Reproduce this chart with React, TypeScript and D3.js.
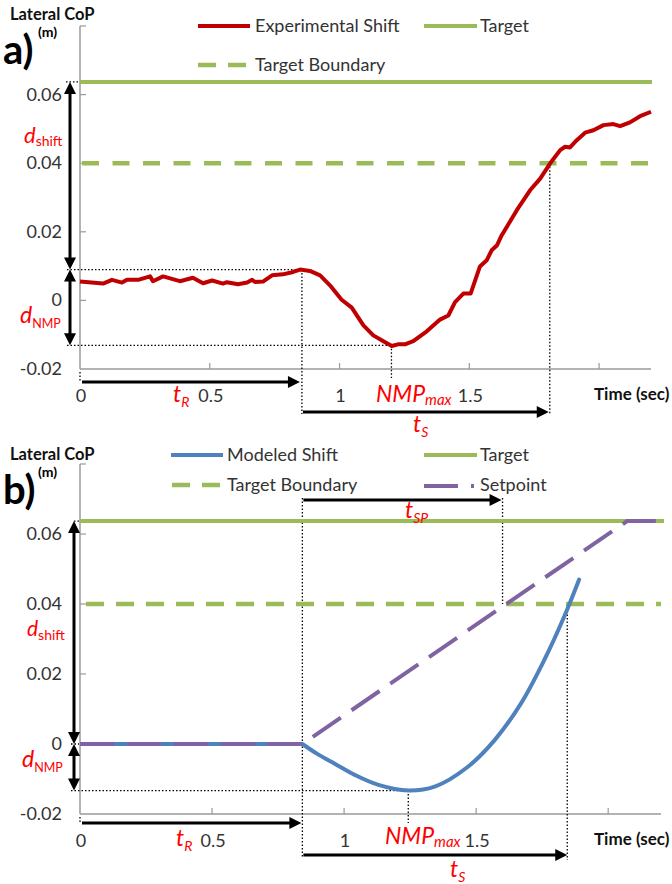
import React from 'react';
import * as d3 from 'd3';

// ---------- data ----------
const xTickMarks = [0.5, 1, 1.5, 2];
const xTickLabelValues = [0, 0.5, 1, 1.5];
const yTickMarks = [0, 0.02, 0.04, 0.06, 0.08];
const yTickLabelValues = [-0.02, 0, 0.02, 0.04, 0.06];

const targetValue = 0.0637;
const boundaryValue = 0.04;

const expT = [0, 0.089, 0.123, 0.162, 0.181, 0.224, 0.27, 0.281, 0.32, 0.385, 0.435, 0.474, 0.509, 0.551, 0.566, 0.609, 0.644, 0.663, 0.674, 0.705, 0.74, 0.782, 0.821, 0.848, 0.886, 0.925, 0.963, 1.008, 1.047, 1.092, 1.13, 1.169, 1.201, 1.225, 1.252, 1.284, 1.336, 1.387, 1.419, 1.445, 1.477, 1.505, 1.541, 1.567, 1.586, 1.606, 1.625, 1.683, 1.734, 1.773, 1.811, 1.85, 1.869, 1.888, 1.914, 1.946, 1.978, 2.017, 2.055, 2.081, 2.119, 2.158, 2.2];
const expV = [0.0055, 0.0049, 0.006, 0.0052, 0.006, 0.006, 0.007, 0.0056, 0.007, 0.0056, 0.0066, 0.005, 0.0058, 0.0049, 0.0053, 0.0047, 0.0052, 0.006, 0.0054, 0.0055, 0.0073, 0.0076, 0.0083, 0.009, 0.0086, 0.0073, 0.0044, 0.0002, -0.0021, -0.0073, -0.0102, -0.0119, -0.0133, -0.0128, -0.0128, -0.0119, -0.009, -0.0056, -0.0044, -0.0005, 0.002, 0.002, 0.0099, 0.0117, 0.0146, 0.016, 0.019, 0.0263, 0.0321, 0.0355, 0.0399, 0.0438, 0.0448, 0.0446, 0.0467, 0.0489, 0.0496, 0.0511, 0.0514, 0.0508, 0.0519, 0.0537, 0.055];

// modeled shift: flat part, then the smooth dip-and-rise
const modFlatT = [0, 0.842];
const modFlatV = [0, 0];
const modT = [0.842, 0.9, 0.966, 1.042, 1.13, 1.243, 1.343, 1.469, 1.57, 1.67, 1.758, 1.834, 1.89];
const modV = [0, -0.0029, -0.0057, -0.0089, -0.0117, -0.0133, -0.0122, -0.0065, 0.0011, 0.0116, 0.024, 0.0365, 0.047];

const spT = [0, 0.842, 2.072, 2.2];
const spV = [0, 0, targetValue, targetValue];

// annotation values
const aTR = 0.855, aPeak = 0.009, aTMin = 1.2, aMin = -0.0131, aTS = 1.81;
const bTR = 0.842, bZero = 0, bTMin = 1.243, bMin = -0.0133, bTS = 1.845, bTSP = 1.6;

// ---------- styles ----------
const RED = '#c00000';
const GREEN = '#9bbb59';
const BLUE = '#4f81bd';
const PURPLE = '#8064a2';
const LBL = '#ff0000';
const FONT = 'Lato, "Open Sans", sans-serif';
const AXIS = '#9a9a9a';

type ArrowProps = { x1: number; y1: number; x2: number; y2: number; both?: boolean };
function Arrow({ x1, y1, x2, y2, both = false }: ArrowProps) {
  const L = 12, W = 6;
  const a = Math.atan2(y2 - y1, x2 - x1);
  const c = Math.cos(a), s = Math.sin(a);
  const head = (x: number, y: number, cc: number, ss: number) =>
    `M${x},${y}L${x - L * cc + W * ss},${y - L * ss - W * cc}L${x - L * cc - W * ss},${y - L * ss + W * cc}Z`;
  const sx = both ? x1 + (L - 2) * c : x1;
  const sy = both ? y1 + (L - 2) * s : y1;
  const ex = x2 - (L - 2) * c, ey = y2 - (L - 2) * s;
  return (
    <g>
      <line x1={sx} y1={sy} x2={ex} y2={ey} stroke="#000" strokeWidth={3} />
      <path d={head(x2, y2, c, s)} fill="#000" />
      {both && <path d={head(x1, y1, -c, -s)} fill="#000" />}
    </g>
  );
}

function Dot({ x1, y1, x2, y2 }: { x1: number; y1: number; x2: number; y2: number }) {
  return <line x1={x1} y1={y1} x2={x2} y2={y2} stroke="#000" strokeWidth={1.3} strokeDasharray="1.5 2" />;
}

type AxesProps = { x: d3.ScaleLinear<number, number>; y: d3.ScaleLinear<number, number>; label: string; top: number };
function Axes({ x, y, label, top }: AxesProps) {
  const [x0, x1] = x.range();
  const [yb, yt] = y.range();
  return (
    <g fontFamily={FONT}>
      <line x1={x0} y1={yb} x2={x0} y2={yt} stroke={AXIS} strokeWidth={1.5} />
      <line x1={x0} y1={yb} x2={x1} y2={yb} stroke={AXIS} strokeWidth={1.5} />
      {yTickMarks.map((v) => (
        <line key={'yt' + v} x1={x0} x2={x0 + 6} y1={y(v)} y2={y(v)} stroke={AXIS} strokeWidth={1.2} />
      ))}
      {xTickMarks.map((v) => (
        <line key={'xt' + v} x1={x(v)} x2={x(v)} y1={yb} y2={yb - 6} stroke={AXIS} strokeWidth={1.2} />
      ))}
      {yTickLabelValues.map((v) => (
        <text key={'yl' + v} x={x0 - 18} y={y(v) + 6} textAnchor="end" fontSize={18} fill="#333">
          {String(v)}
        </text>
      ))}
      {xTickLabelValues.map((v) => (
        <text key={'xl' + v} x={x(v) + 1} y={yb + 33} textAnchor="middle" fontSize={18} fill="#333">
          {String(v)}
        </text>
      ))}
      <text x={594} y={yb + 31} fontSize={17} fontWeight="bold" fill="#111">Time (sec)</text>
      <text x={10} y={top + 20} fontSize={16.5} fontWeight="bold" fill="#111">Lateral CoP</text>
      <text x={3} y={top + 64} fontSize={40} fontWeight="bold" fill="#000">{label}</text>
      <text x={38} y={top + 37} fontSize={14} fontWeight="bold" fill="#000">(m)</text>
    </g>
  );
}

function PanelA() {
  const x = d3.scaleLinear().domain([0, 2.2]).range([80, 651]);
  const y = d3.scaleLinear().domain([-0.02, 0.08]).range([369, 26]);
  const line = d3.line<number>().x((_, i) => x(expT[i])).y((v) => y(v));
  const yb = y(-0.02);
  const arX = 70;
  return (
    <g>
      <Axes x={x} y={y} label="a)" top={0} />
      {/* legend */}
      <g fontFamily={FONT} fontSize={18} fill="#333">
        <line x1={198} x2={250} y1={26} y2={26} stroke={RED} strokeWidth={4} />
        <text x={255} y={32}>Experimental Shift</text>
        <line x1={424} x2={477} y1={26} y2={26} stroke={GREEN} strokeWidth={4} />
        <text x={480} y={32}>Target</text>
        <line x1={198} x2={250} y1={65} y2={65} stroke={GREEN} strokeWidth={4.5} strokeDasharray="18 12" />
        <text x={255} y={71}>Target Boundary</text>
      </g>
      {/* dotted guides */}
      <Dot x1={66} y1={y(targetValue)} x2={79} y2={y(targetValue)} />
      <Dot x1={67} y1={y(aPeak)} x2={x(aTR)} y2={y(aPeak)} />
      <Dot x1={67} y1={y(aMin)} x2={x(aTMin)} y2={y(aMin)} />
      <Dot x1={x(aTR)} y1={y(aPeak)} x2={x(aTR)} y2={yb + 45} />
      <Dot x1={x(aTMin)} y1={y(aMin)} x2={x(aTMin)} y2={yb + 9} />
      <Dot x1={x(aTS)} y1={y(boundaryValue)} x2={x(aTS)} y2={yb + 45} />
      <Dot x1={80} y1={yb + 3} x2={80} y2={yb + 13} />
      {/* target lines */}
      <line x1={x(0)} x2={x(2.2) + 1} y1={y(targetValue)} y2={y(targetValue)} stroke={GREEN} strokeWidth={4} />
      <line x1={x(0) + 2} x2={x(2.2)} y1={y(boundaryValue)} y2={y(boundaryValue)} stroke={GREEN} strokeWidth={4.5} strokeDasharray="17 13.5" />
      {/* data */}
      <path d={line(expV) || ''} fill="none" stroke={RED} strokeWidth={4} strokeLinejoin="round" />
      {/* arrows */}
      <Arrow x1={arX} y1={y(aPeak)} x2={arX} y2={y(targetValue)} both />
      <Arrow x1={arX} y1={y(aPeak)} x2={arX} y2={y(aMin)} both />
      <Arrow x1={x(0) + 2} y1={yb + 13} x2={x(aTR) - 2} y2={yb + 13} />
      <Arrow x1={x(aTR) + 1} y1={yb + 43} x2={x(aTS) - 1} y2={yb + 43} />
      {/* labels */}
      <g fontFamily={FONT} fill={LBL}>
        <text x={24} y={143}><tspan fontStyle="italic" fontSize={22}>d</tspan><tspan fontSize={14} dy={3}>shift</tspan></text>
        <text x={20} y={323}><tspan fontStyle="italic" fontSize={23}>d</tspan><tspan fontSize={12.5} dy={5}>NMP</tspan></text>
        <text x={173} y={402}><tspan fontStyle="italic" fontSize={23}>t</tspan><tspan fontStyle="italic" fontSize={14} dy={5}>R</tspan></text>
        <text x={376} y={402}><tspan fontStyle="italic" fontSize={23}>NMP</tspan><tspan fontStyle="italic" fontSize={15} dy={3}>max</tspan></text>
        <text x={413} y={432}><tspan fontStyle="italic" fontSize={23}>t</tspan><tspan fontStyle="italic" fontSize={14} dy={5}>S</tspan></text>
      </g>
    </g>
  );
}

function PanelB() {
  const x = d3.scaleLinear().domain([0, 2.2]).range([80, 661]);
  const y = d3.scaleLinear().domain([-0.02, 0.08]).range([814, 464]);
  const flatLine = d3.line<number>().x((_, i) => x(modFlatT[i])).y((v) => y(v));
  const modLine = d3.line<number>().x((_, i) => x(modT[i])).y((v) => y(v)).curve(d3.curveCatmullRom.alpha(0.5));
  const spLine = d3.line<number>().x((_, i) => x(spT[i])).y((v) => y(v));
  const yb = y(-0.02);
  const arX = 74;
  return (
    <g>
      <Axes x={x} y={y} label="b)" top={440} />
      <g fontFamily={FONT} fontSize={18} fill="#333">
        <line x1={171} x2={223} y1={455} y2={455} stroke={BLUE} strokeWidth={4} />
        <text x={227} y={461}>Modeled Shift</text>
        <line x1={424} x2={477} y1={455} y2={455} stroke={GREEN} strokeWidth={4} />
        <text x={480} y={461}>Target</text>
        <line x1={172} x2={222} y1={485} y2={485} stroke={GREEN} strokeWidth={4.5} strokeDasharray="18 12" />
        <text x={227} y={491}>Target Boundary</text>
        <line x1={424} x2={476} y1={486} y2={486} stroke={PURPLE} strokeWidth={4} strokeDasharray="34 13 3 100" />
        <text x={480} y={491}>Setpoint</text>
      </g>
      {/* dotted guides */}
      <Dot x1={74} y1={y(targetValue)} x2={79} y2={y(targetValue)} />
      <Dot x1={71} y1={y(bZero)} x2={79} y2={y(bZero)} />
      <Dot x1={71} y1={y(bMin)} x2={x(bTMin)} y2={y(bMin)} />
      <Dot x1={x(bTR)} y1={498} x2={x(bTR)} y2={yb + 44} />
      <Dot x1={x(bTMin)} y1={y(bMin)} x2={x(bTMin)} y2={yb + 9} />
      <Dot x1={x(bTSP)} y1={498} x2={x(bTSP)} y2={y(boundaryValue)} />
      <Dot x1={x(bTS)} y1={y(boundaryValue)} x2={x(bTS)} y2={yb + 46} />
      <Dot x1={80} y1={yb + 3} x2={80} y2={yb + 10} />
      {/* target lines */}
      <line x1={x(0)} x2={x(2.2) + 3} y1={y(targetValue)} y2={y(targetValue)} stroke={GREEN} strokeWidth={4} />
      <line x1={x(0) + 6} x2={x(2.2)} y1={y(boundaryValue)} y2={y(boundaryValue)} stroke={GREEN} strokeWidth={4.5} strokeDasharray="18 12" />
      {/* data */}
      <path d={flatLine(modFlatV) || ''} fill="none" stroke={BLUE} strokeWidth={4} />
      <path d={modLine(modV) || ''} fill="none" stroke={BLUE} strokeWidth={4} strokeLinecap="round" />
      <path d={spLine(spV) || ''} fill="none" stroke={PURPLE} strokeWidth={4} strokeDasharray="34 13" />
      {/* arrows */}
      <Arrow x1={arX} y1={y(bZero)} x2={arX} y2={y(targetValue)} both />
      <Arrow x1={arX} y1={y(bZero)} x2={arX} y2={y(bMin)} both />
      <Arrow x1={x(0) + 2} y1={yb + 9} x2={x(bTR) - 1} y2={yb + 9} />
      <Arrow x1={x(bTR) + 1} y1={yb + 41} x2={x(bTS)} y2={yb + 41} />
      <Arrow x1={x(bTR) + 1} y1={500} x2={x(bTSP) - 1} y2={500} />
      <g fontFamily={FONT} fill={LBL}>
        <text x={27} y={636}><tspan fontStyle="italic" fontSize={21}>d</tspan><tspan fontSize={14} dy={4}>shift</tspan></text>
        <text x={22} y={767}><tspan fontStyle="italic" fontSize={23}>d</tspan><tspan fontSize={12.5} dy={5}>NMP</tspan></text>
        <text x={176} y={846}><tspan fontStyle="italic" fontSize={23}>t</tspan><tspan fontStyle="italic" fontSize={14} dy={5}>R</tspan></text>
        <text x={385} y={844}><tspan fontStyle="italic" fontSize={23}>NMP</tspan><tspan fontStyle="italic" fontSize={15} dy={3}>max</tspan></text>
        <text x={450} y={877}><tspan fontStyle="italic" fontSize={23}>t</tspan><tspan fontStyle="italic" fontSize={14} dy={5}>S</tspan></text>
        <text x={405} y={518}><tspan fontStyle="italic" fontSize={23}>t</tspan><tspan fontStyle="italic" fontSize={14} dy={5}>SP</tspan></text>
      </g>
    </g>
  );
}

export default function App() {
  return (
    <svg width={672} height={884} style={{ position: 'absolute', left: 0, top: 0, background: '#fff' }}>
      <rect width={672} height={884} fill="#fff" />
      <PanelA />
      <PanelB />
    </svg>
  );
}
